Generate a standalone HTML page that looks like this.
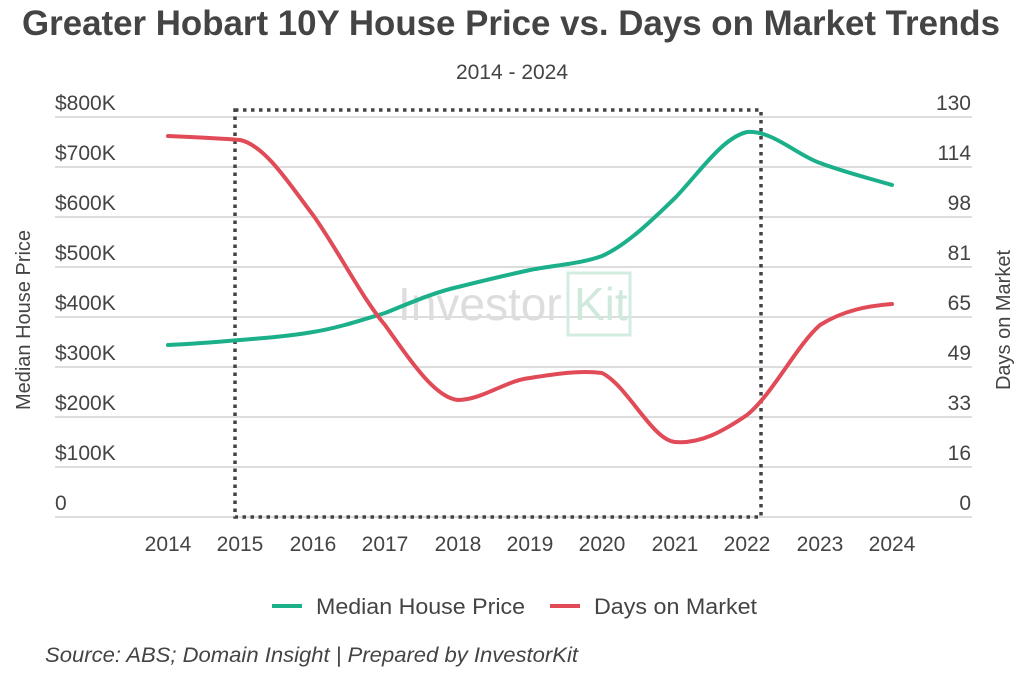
<!DOCTYPE html><html><head><style>body{margin:0;background:#fff;font-family:"Liberation Sans",sans-serif}</style></head><body>
<svg width="1024" height="678" xmlns="http://www.w3.org/2000/svg" font-family="Liberation Sans, sans-serif">
<text x="22" y="35" textLength="978" lengthAdjust="spacingAndGlyphs" font-size="35" font-weight="bold" fill="#444">Greater Hobart 10Y House Price vs. Days on Market Trends</text>
<text x="512" y="79" text-anchor="middle" font-size="21" fill="#444">2014 - 2024</text>
<g stroke="#ddd" stroke-width="2">
<line x1="55" x2="972" y1="117" y2="117"/><line x1="55" x2="972" y1="167" y2="167"/><line x1="55" x2="972" y1="217" y2="217"/><line x1="55" x2="972" y1="267" y2="267"/><line x1="55" x2="972" y1="317" y2="317"/><line x1="55" x2="972" y1="367" y2="367"/><line x1="55" x2="972" y1="417" y2="417"/><line x1="55" x2="972" y1="467" y2="467"/><line x1="55" x2="972" y1="517" y2="517"/>
</g>
<g font-size="21" fill="#444">
<text x="55" y="110">$800K</text><text x="55" y="160">$700K</text><text x="55" y="210">$600K</text><text x="55" y="260">$500K</text><text x="55" y="310">$400K</text><text x="55" y="360">$300K</text><text x="55" y="410">$200K</text><text x="55" y="460">$100K</text><text x="55" y="510">0</text>
</g>
<g font-size="21" fill="#444" text-anchor="end">
<text x="971" y="110">130</text><text x="971" y="160">114</text><text x="971" y="210">98</text><text x="971" y="260">81</text><text x="971" y="310">65</text><text x="971" y="360">49</text><text x="971" y="410">33</text><text x="971" y="460">16</text><text x="971" y="510">0</text>
</g>
<g font-size="21" fill="#444" text-anchor="middle">
<text x="168" y="551">2014</text><text x="240" y="551">2015</text><text x="313" y="551">2016</text><text x="385" y="551">2017</text><text x="458" y="551">2018</text><text x="530" y="551">2019</text><text x="602" y="551">2020</text><text x="675" y="551">2021</text><text x="747" y="551">2022</text><text x="820" y="551">2023</text><text x="892" y="551">2024</text>
</g>
<text transform="translate(30,320) rotate(-90)" text-anchor="middle" font-size="20" fill="#444">Median House Price</text>
<text transform="translate(1010,320) rotate(-90)" text-anchor="middle" font-size="20" fill="#444">Days on Market</text>
<text x="398" y="320" font-size="46" fill="#ddd">Investor</text>
<rect x="568" y="273" width="62" height="62" fill="none" stroke="#d3ece0" stroke-width="3"/>
<text x="574" y="320" font-size="46" fill="#cfe9dc">Kit</text>
<rect x="235" y="110" width="526" height="407" fill="none" stroke="#444" stroke-width="3.5" stroke-dasharray="3.5,4.5"/>
<path fill="none" stroke="#1bb08a" stroke-width="4" stroke-linecap="round" d="M168,345 C192,344 217,342 240,340 C265,338 290,336 313,332 C338,328 362,320 385,313 C410,303 435,292 458,287 C482,281 507,275 530,270 C555,265 580,264 602,256 C627,245 652,220 675,198 C700,172 722,138 747,132 C772,130 797,155 820,163 C844,172 868,178 892,185"/>
<path fill="none" stroke="#e04b57" stroke-width="4" stroke-linecap="round" d="M168,136 C192,137 217,138 240,140 C265,145 290,185 313,215 C338,250 362,298 385,325 C410,360 435,398 458,400 C482,400 507,380 530,378 C555,374 580,370 602,373 C627,385 652,440 675,442 C700,444 722,432 747,415 C772,395 797,345 820,325 C844,310 868,306 892,304"/>
<line x1="272" x2="302" y1="606" y2="606" stroke="#1bb08a" stroke-width="4"/>
<text x="316" y="614" textLength="209" lengthAdjust="spacingAndGlyphs" font-size="22" fill="#444">Median House Price</text>
<line x1="550" x2="580" y1="606" y2="606" stroke="#e04b57" stroke-width="4"/>
<text x="594" y="614" textLength="163" lengthAdjust="spacingAndGlyphs" font-size="22" fill="#444">Days on Market</text>
<text x="45" y="662" textLength="533" lengthAdjust="spacingAndGlyphs" font-size="21" font-style="italic" fill="#444">Source: ABS; Domain Insight | Prepared by InvestorKit</text>
</svg></body></html>
